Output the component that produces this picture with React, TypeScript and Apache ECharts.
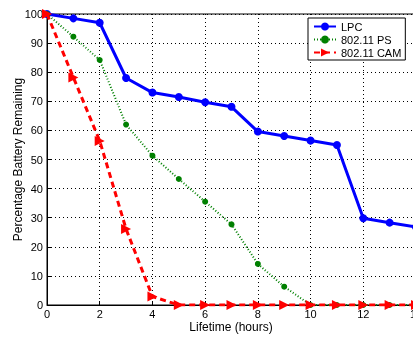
import React, { useEffect, useRef } from "react";
import * as echarts from "echarts";

const hours = [0, 1, 2, 3, 4, 5, 6, 7, 8, 9, 10, 11, 12, 13, 14];
const lpc = [100, 98.5, 97, 78, 73, 71.5, 69.7, 68.1, 59.6, 58.1, 56.5, 55, 29.8, 28.3, 26.8];
const ps = [100, 92.2, 84.2, 62, 51.3, 43.3, 35.5, 27.7, 14.1, 6.3, 0, 0, 0, 0, 0];
const cam = [100, 78.2, 56.4, 26.1, 2.9, 0, 0, 0, 0, 0, 0, 0, 0, 0, 0];
const seriesNames = ["LPC", "802.11 PS", "802.11 CAM"];
const xTicks = [0, 2, 4, 6, 8, 10, 12, 14];
const xTitle = "Lifetime (hours)";
const yTitle = "Percentage Battery Remaining";

const pairs = (v: number[]) => hours.map((h, i) => [h, v[i]]);

export default function App() {
  const ref = useRef<HTMLDivElement>(null);
  useEffect(() => {
    if (!ref.current) return;
    const chart = echarts.init(ref.current, null, { renderer: "svg" });
    const font = "Liberation Sans";
    chart.setOption({
      animation: false,
      textStyle: { fontFamily: font },
      grid: {
        left: 47, right: -3, top: 14, bottom: 32,
        show: true, borderColor: "#000", borderWidth: 1,
        outerBoundsMode: "none", containLabel: false,
      },
      graphic: [
        {
          type: "text",
          x: 231,
          y: 327,
          style: {
            text: xTitle,
            fontFamily: font,
            fontSize: 12,
            fill: "#000",
            align: "center",
            verticalAlign: "middle",
          },
        },
      ],
      legend: {
        left: 308,
        top: 18,
        orient: "vertical",
        backgroundColor: "#fff",
        borderColor: "#000",
        borderWidth: 1,
        borderRadius: 0,
        padding: [3, 4, 2, 5],
        itemGap: 2,
        itemWidth: 22,
        itemHeight: 10,
        textStyle: { fontFamily: font, fontSize: 11, color: "#000" },
        data: seriesNames,
      },
      xAxis: {
        type: "value",
        min: 0,
        max: 14,
        interval: 2,
        axisLine: { show: true, lineStyle: { color: "#000" } },
        axisTick: { show: true, inside: true, length: 4, lineStyle: { color: "#000" } },
        axisLabel: {
          fontFamily: font, fontSize: 11, color: "#000", margin: 3,
          formatter: (v: number) => (xTicks.includes(v) ? String(v) : ""),
        },
        splitLine: { show: true, lineStyle: { color: "#000", type: [1, 3], width: 1 } },
      },
      yAxis: {
        type: "value",
        min: 0,
        max: 100,
        interval: 10,
        name: yTitle,
        nameLocation: "middle",
        nameGap: 23,
        nameMoveOverlap: false,
        nameTextStyle: { fontFamily: font, fontSize: 12, color: "#000" },
        axisLine: { show: true, lineStyle: { color: "#000" } },
        axisTick: { show: true, inside: true, length: 4, lineStyle: { color: "#000" } },
        axisLabel: { fontFamily: font, fontSize: 11, color: "#000", margin: 4 },
        splitLine: { show: true, lineStyle: { color: "#000", type: [1, 3], width: 1 } },
      },
      series: [
        {
          name: seriesNames[0],
          type: "line",
          data: pairs(lpc),
          symbol: "circle",
          symbolSize: 8,
          lineStyle: { color: "#0000ff", width: 3 },
          itemStyle: { color: "#0000ff" },
          z: 3,
        },
        {
          name: seriesNames[1],
          type: "line",
          data: pairs(ps),
          symbol: "circle",
          symbolSize: 6,
          lineStyle: { color: "#008000", width: 2, type: [1, 2] },
          itemStyle: { color: "#008000" },
          z: 4,
        },
        {
          name: seriesNames[2],
          type: "line",
          data: pairs(cam),
          symbol: "triangle",
          symbolRotate: -90,
          symbolSize: 10,
          lineStyle: { color: "#ff0000", width: 3, type: [6, 4] },
          itemStyle: { color: "#ff0000" },
          z: 5,
        },
      ],
    });
    return () => chart.dispose();
  }, []);
  return (
    <div
      ref={ref}
      style={{ position: "fixed", left: 0, top: 0, width: 413, height: 337, margin: 0 }}
    />
  );
}
